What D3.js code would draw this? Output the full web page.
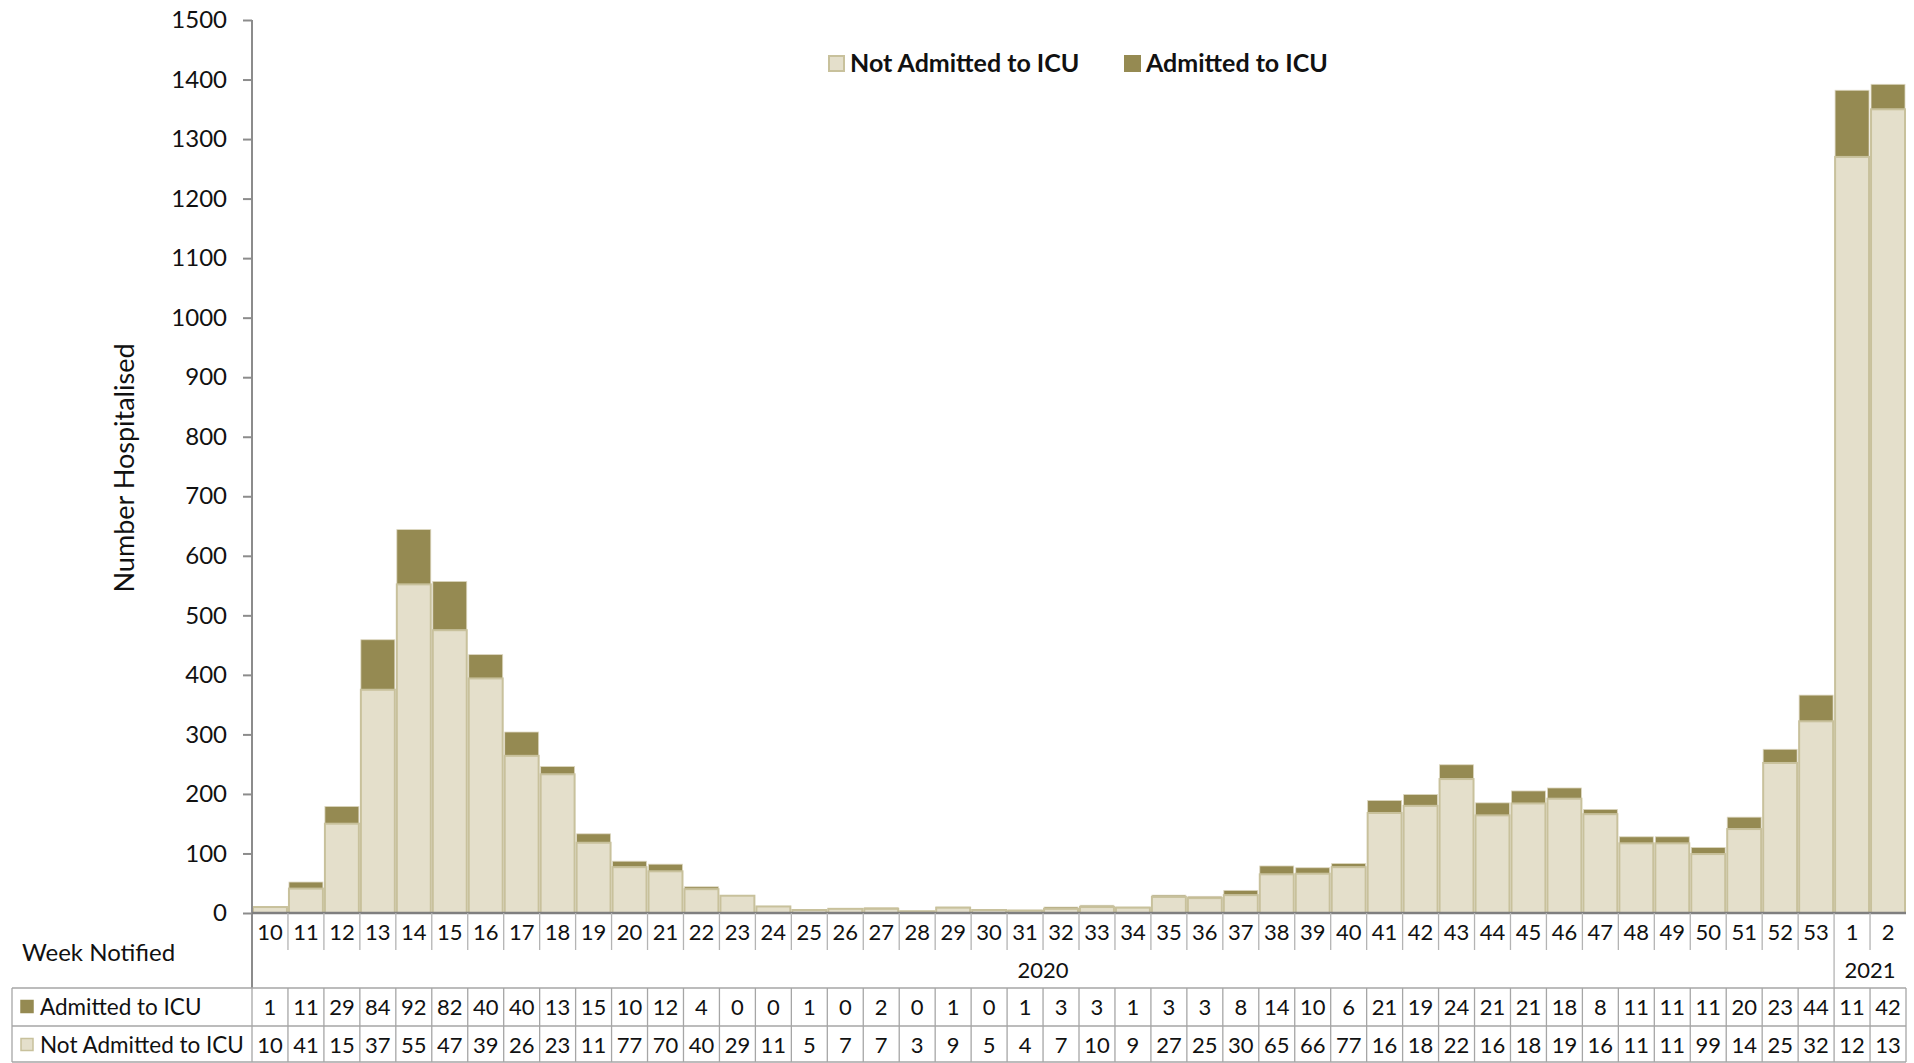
<!DOCTYPE html>
<html>
<head>
<meta charset="utf-8">
<script src="https://cdn.jsdelivr.net/npm/d3@7"></script>
<style>
  body { margin: 0; background: #fff; }
  svg text { font-family: Lato, "Open Sans", sans-serif; fill: #111; }
</style>
</head>
<body>
<svg id="chart" width="1914" height="1063"></svg>
<script>
// week labels, year groups and series values
const weeks = ["10","11","12","13","14","15","16","17","18","19","20","21","22","23","24","25","26","27","28","29","30","31","32","33","34","35","36","37","38","39","40","41","42","43","44","45","46","47","48","49","50","51","52","53","1","2"];
const years = [{ label: "2020", from: 0, to: 43 }, { label: "2021", from: 44, to: 45 }];
const admittedICU = [1,11,29,84,92,82,40,40,13,15,10,12,4,0,0,1,0,2,0,1,0,1,3,3,1,3,3,8,14,10,6,21,19,24,21,21,18,8,11,11,11,20,23,44,112,42];
const notAdmittedICU = [10,41,150,375,552,475,394,264,233,118,77,70,40,29,11,5,7,7,3,9,5,4,7,10,9,27,25,30,65,66,77,168,180,225,164,184,192,166,117,117,99,141,252,322,1270,1350];
const yTicks = d3.range(0, 1501, 100);

const colNot = "#e4dfcb", strokeNot = "#c8c19c";
const colIcu = "#958a52";

const svg = d3.select("#chart");
const plotLeft = 252, plotRight = 1906, plotTop = 20, base = 913;

const x = d3.scaleBand().domain(weeks).range([plotLeft, plotRight]).padding(0);
const y = d3.scaleLinear().domain([0, 1500]).range([base, plotTop]);

// bars
const g = svg.append("g");
weeks.forEach(function (w, i) {
  let n = notAdmittedICU[i], a = admittedICU[i];
  g.append("rect")
    .attr("x", x(w) + 1).attr("width", x.bandwidth() - 2)
    .attr("y", y(n + a)).attr("height", y(n) - y(n + a))
    .attr("fill", colIcu)
    .attr("stroke", "#ddd7c0").attr("stroke-width", 0.8);
  g.append("rect")
    .attr("x", x(w) + 1).attr("width", x.bandwidth() - 2)
    .attr("y", y(n)).attr("height", base - y(n))
    .attr("fill", colNot)
    .attr("stroke", strokeNot).attr("stroke-width", 2);
});

// y axis
const yAxis = svg.append("g")
  .attr("transform", "translate(" + plotLeft + ",0)")
  .call(d3.axisLeft(y).tickValues(yTicks).tickFormat(d3.format("d")).tickSize(9).tickPadding(16));
yAxis.select(".domain").remove();
yAxis.selectAll(".tick line").attr("stroke", "#8c8c8c").attr("stroke-width", 2);
yAxis.selectAll(".tick text")
  .style("font-size", "24px").attr("fill", "#111")
  .style("font-family", "Lato, 'Open Sans', sans-serif");

svg.append("line")
  .attr("x1", plotLeft).attr("x2", plotLeft).attr("y1", plotTop).attr("y2", 988)
  .attr("stroke", "#8c8c8c").attr("stroke-width", 2);
svg.append("line")
  .attr("x1", plotLeft).attr("x2", plotRight).attr("y1", base).attr("y2", base)
  .attr("stroke", "#7f7f7f").attr("stroke-width", 2.5);

svg.append("text")
  .attr("transform", "translate(134,468) rotate(-90)")
  .attr("text-anchor", "middle")
  .style("font-size", "27px")
  .text("Number Hospitalised");

// category row
weeks.forEach(function (w, i) {
  svg.append("text")
    .attr("x", x(w) + x.bandwidth() / 2).attr("y", 940)
    .attr("text-anchor", "middle")
    .style("font-size", "22px")
    .text(w);
  if (i > 0) {
    let yearEdge = years.some(function (yr) { return yr.from === i; });
    svg.append("line")
      .attr("x1", x(w)).attr("x2", x(w))
      .attr("y1", base).attr("y2", yearEdge ? 988 : 950)
      .attr("stroke", "#b4b4b4").attr("stroke-width", 1.3);
  }
});

years.forEach(function (yr) {
  let x0 = x(weeks[yr.from]), x1 = x(weeks[yr.to]) + x.bandwidth();
  svg.append("text")
    .attr("x", (x0 + x1) / 2).attr("y", 978)
    .attr("text-anchor", "middle")
    .style("font-size", "22px")
    .text(yr.label);
});

svg.append("text")
  .attr("x", 22).attr("y", 961)
  .style("font-size", "24px")
  .text("Week Notified");

// data table
const rows = [
  { label: "Admitted to ICU", values: admittedICU, fill: colIcu, stroke: colIcu },
  { label: "Not Admitted to ICU", values: notAdmittedICU, fill: colNot, stroke: strokeNot }
];
const rowTop = [988, 1026], rowH = 37;
const tableLine = "#a6a6a6";

rows.forEach(function (r, k) {
  let ry = rowTop[k], cy = ry + rowH / 2;
  svg.append("rect")
    .attr("x", 21).attr("y", cy - 6).attr("width", 12).attr("height", 12)
    .attr("fill", r.fill).attr("stroke", r.stroke).attr("stroke-width", 1.5);
  svg.append("text")
    .attr("x", 40).attr("y", cy + 8)
    .style("font-size", "22.5px")
    .text(r.label);
  weeks.forEach(function (w, i) {
    // the narrow cells only show the first two digits, as in the source
    svg.append("text")
      .attr("x", x(w) + x.bandwidth() / 2).attr("y", cy + 8)
      .attr("text-anchor", "middle")
      .style("font-size", "22px")
      .text(String(r.values[i]).slice(0, 2));
  });
});

[988, 1026, 1062].forEach(function (ly) {
  svg.append("line")
    .attr("x1", 12).attr("x2", plotRight).attr("y1", ly).attr("y2", ly)
    .attr("stroke", tableLine).attr("stroke-width", 1.3);
});
svg.append("line")
  .attr("x1", 12).attr("x2", 12).attr("y1", 988).attr("y2", 1062)
  .attr("stroke", tableLine).attr("stroke-width", 1.3);
weeks.forEach(function (w) {
  svg.append("line")
    .attr("x1", x(w)).attr("x2", x(w)).attr("y1", 988).attr("y2", 1062)
    .attr("stroke", tableLine).attr("stroke-width", 1.3);
});
svg.append("line")
  .attr("x1", plotRight).attr("x2", plotRight).attr("y1", 988).attr("y2", 1062)
  .attr("stroke", tableLine).attr("stroke-width", 1.3);

// legend
const legend = [
  { label: "Not Admitted to ICU", fill: colNot, stroke: strokeNot, x: 828 },
  { label: "Admitted to ICU", fill: colIcu, stroke: colIcu, x: 1124 }
];
legend.forEach(function (l) {
  svg.append("rect")
    .attr("x", l.x + 1).attr("y", 56).attr("width", 15).attr("height", 15)
    .attr("fill", l.fill).attr("stroke", l.stroke).attr("stroke-width", 2);
  svg.append("text")
    .attr("x", l.x + 22).attr("y", 72)
    .style("font-size", "25px").style("font-weight", "bold")
    .text(l.label);
});
</script>
</body>
</html>
